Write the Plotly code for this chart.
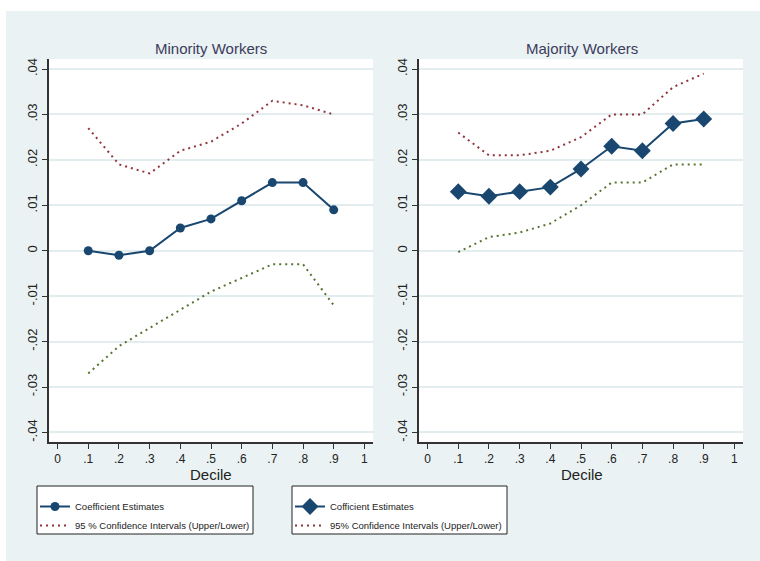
import plotly.graph_objects as go

# ---- data ----
decile = [0.1, 0.2, 0.3, 0.4, 0.5, 0.6, 0.7, 0.8, 0.9]

min_coef = [0.000, -0.001, 0.000, 0.005, 0.007, 0.011, 0.015, 0.015, 0.009]
min_upper = [0.027, 0.019, 0.017, 0.022, 0.024, 0.028, 0.033, 0.032, 0.030]
min_lower = [-0.027, -0.021, -0.017, -0.013, -0.009, -0.006, -0.003, -0.003, -0.012]

maj_coef = [0.013, 0.012, 0.013, 0.014, 0.018, 0.023, 0.022, 0.028, 0.029]
maj_upper = [0.026, 0.021, 0.021, 0.022, 0.025, 0.030, 0.030, 0.036, 0.039]
maj_lower = [-0.0003, 0.003, 0.004, 0.006, 0.010, 0.015, 0.015, 0.019, 0.019]

x_tickvals = [0, 0.1, 0.2, 0.3, 0.4, 0.5, 0.6, 0.7, 0.8, 0.9, 1]
x_ticktext = ["0", ".1", ".2", ".3", ".4", ".5", ".6", ".7", ".8", ".9", "1"]
y_tickvals = [-0.04, -0.03, -0.02, -0.01, 0, 0.01, 0.02, 0.03, 0.04]
y_ticktext = ["-.04", "-.03", "-.02", "-.01", "0", ".01", ".02", ".03", ".04"]

panel_titles = ["Minority Workers", "Majority Workers"]
x_title = "Decile"
legend_names_1 = ["Coefficient Estimates", "95 % Confidence Intervals (Upper/Lower)"]
legend_names_2 = ["Cofficient Estimates", "95% Confidence Intervals (Upper/Lower)"]

# ---- style ----
W, H = 760, 561
NAVY = "#1a476f"
MAROON = "#90353b"
GREEN = "#55752f"
BG = "#eaf2f3"
GRID = "#e3ecee"
FONT = "Liberation Sans, Arial, sans-serif"
DOT = "2px,4px"

def px_x(p):
    return p / W

def px_y(p):
    return 1 - p / H

fig = go.Figure()

# Minority panel
fig.add_trace(go.Scatter(x=decile, y=min_coef, mode="lines+markers", name=legend_names_1[0],
                         line=dict(color=NAVY, width=2), marker=dict(symbol="circle", size=9, color=NAVY),
                         xaxis="x", yaxis="y", legend="legend"))
fig.add_trace(go.Scatter(x=decile, y=min_upper, mode="lines", name=legend_names_1[1],
                         line=dict(color=MAROON, width=2, dash=DOT),
                         xaxis="x", yaxis="y", legend="legend"))
fig.add_trace(go.Scatter(x=decile, y=min_lower, mode="lines", name=legend_names_1[1], showlegend=False,
                         line=dict(color=GREEN, width=2, dash=DOT),
                         xaxis="x", yaxis="y"))

# Majority panel
fig.add_trace(go.Scatter(x=decile, y=maj_coef, mode="lines+markers", name=legend_names_2[0],
                         line=dict(color=NAVY, width=2), marker=dict(symbol="diamond", size=13, color=NAVY),
                         xaxis="x2", yaxis="y2", legend="legend2"))
fig.add_trace(go.Scatter(x=decile, y=maj_upper, mode="lines", name=legend_names_2[1],
                         line=dict(color=MAROON, width=2, dash=DOT),
                         xaxis="x2", yaxis="y2", legend="legend2"))
fig.add_trace(go.Scatter(x=decile, y=maj_lower, mode="lines", name=legend_names_2[1], showlegend=False,
                         line=dict(color=GREEN, width=2, dash=DOT),
                         xaxis="x2", yaxis="y2"))

xaxis_common = dict(range=[-0.028, 1.028], tickmode="array", tickvals=x_tickvals, ticktext=x_ticktext,
                    ticks="outside", ticklen=5, tickwidth=1, tickcolor="#333333",
                    showline=True, linecolor="#333333", linewidth=1.5, showgrid=False, zeroline=False,
                    tickfont=dict(family=FONT, size=12, color="#222222"))
yaxis_common = dict(range=[-0.0421, 0.0422], tickmode="array", tickvals=y_tickvals, ticktext=y_ticktext,
                    ticks="outside", ticklen=5, tickwidth=1, tickcolor="#333333", tickangle=-90,
                    showline=True, linecolor="#333333", linewidth=1.5, showgrid=True, gridcolor=GRID,
                    gridwidth=2, zeroline=False,
                    tickfont=dict(family=FONT, size=13, color="#222222"))

ydom = [px_y(442), px_y(59)]
leg_font = dict(family=FONT, size=9.5, color="#222222")

fig.update_layout(
    width=W, height=H,
    margin=dict(l=0, r=0, t=0, b=0),
    paper_bgcolor=BG, plot_bgcolor="white",
    font=dict(family=FONT, color="#222222"),
    xaxis=dict(domain=[px_x(49), px_x(373)], anchor="y", **xaxis_common),
    yaxis=dict(domain=ydom, anchor="x", **yaxis_common),
    xaxis2=dict(domain=[px_x(419), px_x(743)], anchor="y2", **xaxis_common),
    yaxis2=dict(domain=ydom, anchor="x2", **yaxis_common),
    legend=dict(x=px_x(35), y=px_y(492), xanchor="left", yanchor="top", bgcolor="rgba(0,0,0,0)",
                borderwidth=0, font=leg_font, tracegroupgap=0),
    legend2=dict(x=px_x(290), y=px_y(492), xanchor="left", yanchor="top", bgcolor="rgba(0,0,0,0)",
                 borderwidth=0, font=leg_font, tracegroupgap=0),
    showlegend=True,
)

# white strips outside the gray panel
fig.add_shape(type="rect", xref="paper", yref="paper", x0=0, x1=1, y0=px_y(11), y1=1,
              fillcolor="white", line=dict(width=0), layer="below")
fig.add_shape(type="rect", xref="paper", yref="paper", x0=0, x1=px_x(6), y0=0, y1=1,
              fillcolor="white", line=dict(width=0), layer="below")
# legend boxes
fig.add_shape(type="rect", xref="paper", yref="paper", x0=px_x(37), x1=px_x(253), y0=px_y(534), y1=px_y(486),
              fillcolor="white", line=dict(color="#222222", width=1), layer="below")
fig.add_shape(type="rect", xref="paper", yref="paper", x0=px_x(292), x1=px_x(507), y0=px_y(534), y1=px_y(486),
              fillcolor="white", line=dict(color="#222222", width=1), layer="below")

# panel titles and x-axis titles
for xc, t in zip([px_x(211), px_x(582)], panel_titles):
    fig.add_annotation(text=t, x=xc, y=px_y(48), xref="paper", yref="paper", showarrow=False,
                       xanchor="center", yanchor="middle",
                       font=dict(family=FONT, size=15, color="#3c3c5c"))
    fig.add_annotation(text=x_title, x=xc, y=px_y(474), xref="paper", yref="paper", showarrow=False,
                       xanchor="center", yanchor="middle",
                       font=dict(family=FONT, size=15, color="#222222"))

fig.write_html("out.html")
